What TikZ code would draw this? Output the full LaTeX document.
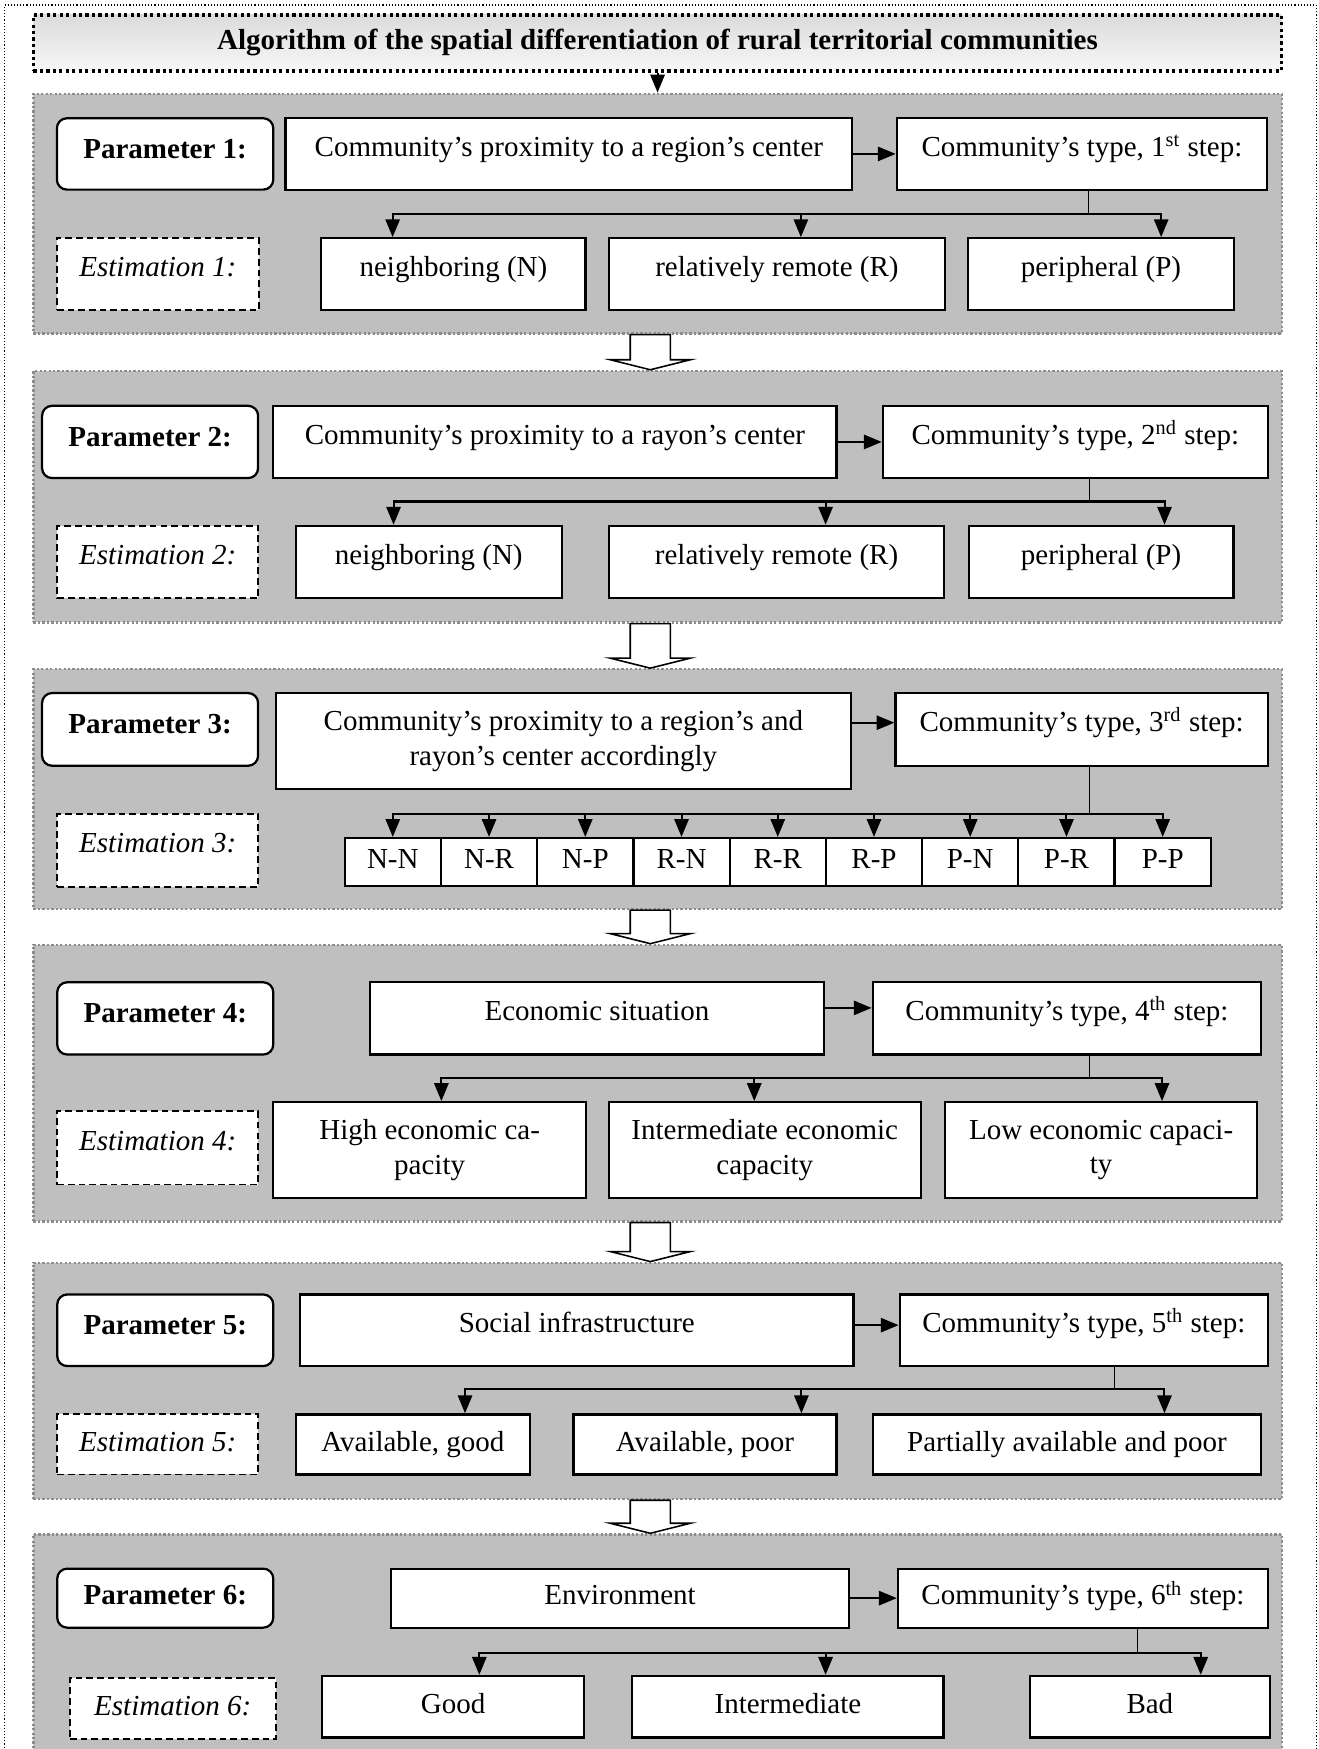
\documentclass[tikz,border=0pt]{standalone}
\usepackage{fontspec}
\setmainfont{Liberation Serif}
\usetikzlibrary{arrows.meta}
\newcommand\fs{\fontsize{13pt}{15.5pt}\selectfont}
\newcommand\drawbox[7][]{\node[box,#1,minimum width={((#5)-(#3))*0.5pt},minimum height={((#6)-(#4))*0.5pt}] (#2) at ({((#3)+(#5))/2},{((#4)+(#6))/2}) {#7};}
\newcommand\blk[2]{\draw[blockarrow] ([xshift=-12.25pt]#1.south) -- ([xshift=-12.25pt,yshift=4.5pt]#2.north) -- ([xshift=-21.25pt,yshift=4.5pt]#2.north) -- ([xshift=-3.25pt]#2.north) -- ([xshift=14.75pt,yshift=4.5pt]#2.north) -- ([xshift=5.75pt,yshift=4.5pt]#2.north) -- ([xshift=5.75pt]#1.south) -- cycle;}
\begin{document}
\begin{tikzpicture}[x=0.5pt,y=-0.5pt,
 box/.style={draw,fill=white,line width=1pt,inner sep=0pt,font=\fs},
 tone/.style={text height=9pt,text depth=3pt},
 tmid/.style={text height=9pt,text depth=5pt},
 tup/.style={text height=9pt,text depth=7pt},
 pbox/.style={rounded corners=4.5pt,font=\fs\bfseries},
 est/.style={dash pattern=on 3pt off 1.8pt,line width=0.8pt,font=\fs\itshape},
 twol/.style={align=center},
 panel/.style={draw=black!45,fill=black!25,line width=1pt,dash pattern=on 1pt off 1pt,inner sep=0pt},
 conn/.style={line width=0.9pt,-{Triangle[length=8pt,width=6.4pt]}},
 thinl/.style={line width=0.5pt},
 blockarrow/.style={draw=black,fill=white,line width=0.7pt,line join=miter},
 titlebox/.style={draw,line width=1.4pt,dash pattern=on 1.4pt off 1.5pt,top color=black!14,bottom color=black!3,inner sep=0pt,font=\fs\bfseries,text height=9pt,text depth=3pt}
]
\clip (0,0) rectangle (1182,1568);
% outer frame
\draw[line width=0.5pt,dash pattern=on 0.5pt off 0.9pt] (4,1620) -- (4,4.5) -- (1180,4.5) -- (1180,1620);
% title
\node[titlebox,minimum width=559.5pt,minimum height=25.1pt] (title) at (589.5,38.5) {Algorithm of the spatial differentiation of rural territorial communities};
% panels
\node[panel,minimum width=559.5pt,minimum height={(299-84)*0.5pt}] (p1) at (589.5,{(84+299)/2}) {};
\node[panel,minimum width=559.5pt,minimum height={(558-332.5)*0.5pt}] (p2) at (589.5,{(332.5+558)/2}) {};
\node[panel,minimum width=559.5pt,minimum height={(815-600)*0.5pt}] (p3) at (589.5,{(600+815)/2}) {};
\node[panel,minimum width=559.5pt,minimum height={(1095-847)*0.5pt}] (p4) at (589.5,{(847+1095)/2}) {};
\node[panel,minimum width=559.5pt,minimum height={(1344-1132)*0.5pt}] (p5) at (589.5,{(1132+1344)/2}) {};
\node[panel,minimum width=559.5pt,minimum height={(1620-1375.6)*0.5pt}] (p6) at (589.5,{(1375.6+1620)/2}) {};
\draw[conn] (title.south) -- (p1.north);
\blk{p1}{p2}
\blk{p2}{p3}
\blk{p3}{p4}
\blk{p4}{p5}
\blk{p5}{p6}

% ---------- panel 1
\drawbox[pbox,tmid]{par1}{51}{106}{245}{170}{Parameter 1:}
\drawbox[tup]{c1}{256}{106}{764}{170}{Community’s proximity to a region’s center}
\drawbox[tup]{t1}{804}{106}{1136}{170}{Community’s type, 1\textsuperscript{st} step:}
\drawbox[est,tup]{est1}{51}{213.6}{232}{278}{Estimation 1:}
\drawbox[tup]{e1a}{288}{213.6}{525}{278}{neighboring (N)}
\drawbox[tup]{e1b}{546}{213.6}{847}{278}{relatively remote (R)}
\drawbox[tup]{e1c}{868}{213.6}{1106}{278}{peripheral (P)}
\draw[conn] (c1.east) -- (t1.west);
\coordinate (j1) at (976,192);
\draw[thinl] (t1.south -| j1) -- (j1);
\draw[conn] (j1) -| ([xshift=-27.25pt]e1a.north);
\draw[conn] (j1) -| ([xshift=10.75pt]e1b.north);
\draw[conn] (j1) -| ([xshift=27pt]e1c.north);

% ---------- panel 2
\drawbox[pbox,tmid]{par2}{37.7}{363.8}{231.4}{428.6}{Parameter 2:}
\drawbox[tup]{c2}{245}{363.8}{750}{428.6}{Community’s proximity to a rayon’s center}
\drawbox[tup]{t2}{791.5}{363.8}{1136.7}{428.6}{Community’s type, 2\textsuperscript{nd} step:}
\drawbox[est,tup]{est2}{51.3}{471.4}{231.4}{536.2}{Estimation 2:}
\drawbox[tup]{e2a}{265.3}{471.4}{503.5}{536.2}{neighboring (N)}
\drawbox[tup]{e2b}{545.8}{471.4}{846.5}{536.2}{relatively remote (R)}
\drawbox[tup]{e2c}{868.4}{471.4}{1105.8}{536.2}{peripheral (P)}
\draw[conn] (c2.east) -- (t2.west);
\coordinate (j2) at (977,449.6);
\draw[thinl] (t2.south -| j2) -- (j2);
\draw[conn] (j2) -| ([xshift=-15.8pt]e2a.north);
\draw[conn] (j2) -| ([xshift=22pt]e2b.north);
\draw[conn] (j2) -| ([xshift=28.45pt]e2c.north);

% ---------- panel 3
\drawbox[pbox,tmid]{par3}{37.7}{621.3}{231.4}{686.5}{Parameter 3:}
\drawbox[twol]{c3}{247.2}{621.3}{762.9}{707.3}{Community’s proximity to a region’s and\\rayon’s center accordingly}
\drawbox[tup]{t3}{802.8}{621.3}{1136.7}{686.5}{Community’s type, 3\textsuperscript{rd} step:}
\drawbox[est,tup]{est3}{51.3}{729.5}{231.4}{795.2}{Estimation 3:}
\draw[conn] ([yshift=3pt]t3.west -| c3.east) -- ([yshift=3pt]t3.west);
\coordinate (j3) at (977,729.5);
\draw[thinl] (t3.south -| j3) -- (j3);
\foreach \lab [count=\i] in {N-N,N-R,N-P,R-N,R-R,R-P,P-N,P-R,P-P}{
  \drawbox[tone]{s\i}{309+(\i-1)*86.28}{751.3}{309+\i*86.28}{794.6}{\lab}
  \draw[conn] (j3) -| (s\i.north);
}

% ---------- panel 4
\drawbox[pbox,tmid]{par4}{51.3}{880.6}{245}{945.4}{Parameter 4:}
\drawbox[tup]{c4}{331.7}{880.6}{738.7}{945.4}{Economic situation}
\drawbox[tup]{t4}{782.4}{880.6}{1130.7}{945.4}{Community’s type, 4\textsuperscript{th} step:}
\drawbox[est,tup]{est4}{51.3}{996.2}{231.4}{1062}{Estimation 4:}
\drawbox[twol]{e4a}{245}{988.1}{525.4}{1073.9}{High economic ca-\\pacity}
\drawbox[twol]{e4b}{545.8}{988.1}{825.4}{1073.9}{Intermediate economic\\capacity}
\drawbox[twol]{e4c}{847.3}{988.1}{1127}{1073.9}{Low economic capaci-\\ty}
\draw[conn] ([yshift=4.7pt]c4.east) -- ([yshift=4.7pt]t4.west);
\coordinate (j4) at (977,966.3);
\draw[thinl] (t4.south -| j4) -- (j4);
\draw[conn] (j4) -| ([xshift=5.25pt]e4a.north);
\draw[conn] (j4) -| ([xshift=-4.7pt]e4b.north);
\draw[conn] (j4) -| ([xshift=27.3pt]e4c.north);

% ---------- panel 5
\drawbox[pbox,tmid]{par5}{51.3}{1160.5}{245}{1224.7}{Parameter 5:}
\drawbox[tup]{c5}{269.1}{1160.5}{765.1}{1224.7}{Social infrastructure}
\drawbox[tup]{t5}{806.6}{1160.5}{1136.7}{1224.7}{Community’s type, 5\textsuperscript{th} step:}
\drawbox[est,tone]{est5}{51.3}{1268}{231.4}{1321.8}{Estimation 5:}
\drawbox[tone]{e5a}{265.3}{1268}{474.9}{1321.8}{Available, good}
\drawbox[tone]{e5b}{514.1}{1268}{750}{1321.8}{Available, poor}
\drawbox[tone]{e5c}{782.4}{1268}{1130.7}{1321.8}{Partially available and poor}
\draw[conn] ([yshift=2.3pt]c5.east) -- ([yshift=2.3pt]t5.west);
\coordinate (j5) at (998.8,1245.6);
\draw[thinl] (t5.south -| j5) -- (j5);
\draw[conn] (j5) -| ([xshift=23.4pt]e5a.north);
\draw[conn] (j5) -| ([xshift=43.2pt]e5b.north);
\draw[conn] (j5) -| ([xshift=43.7pt]e5c.north);

% ---------- panel 6
\drawbox[pbox,tone]{par6}{51.3}{1406.3}{245}{1459.2}{Parameter 6:}
\drawbox[tone]{c6}{350.5}{1406.3}{761.3}{1459.2}{Environment}
\drawbox[tone]{t6}{805}{1406.3}{1136.7}{1459.2}{Community’s type, 6\textsuperscript{th} step:}
\drawbox[est,tone]{est6}{62.6}{1504.6}{247.2}{1559.3}{Estimation 6:}
\drawbox[tone]{e6a}{288.7}{1502.5}{523.9}{1557.7}{Good}
\drawbox[tone]{e6b}{566.9}{1502.5}{845.8}{1557.7}{Intermediate}
\drawbox[tone]{e6c}{923.4}{1502.5}{1138.3}{1557.7}{Bad}
\draw[conn] (c6.east) -- (t6.west);
\coordinate (j6) at (1019.9,1482.2);
\draw[thinl] (t6.south -| j6) -- (j6);
\draw[conn] (j6) -| ([xshift=11.7pt]e6a.north);
\draw[conn] (j6) -| ([xshift=16.9pt]e6b.north);
\draw[conn] (j6) -| ([xshift=22.8pt]e6c.north);
\end{tikzpicture}
\end{document}
